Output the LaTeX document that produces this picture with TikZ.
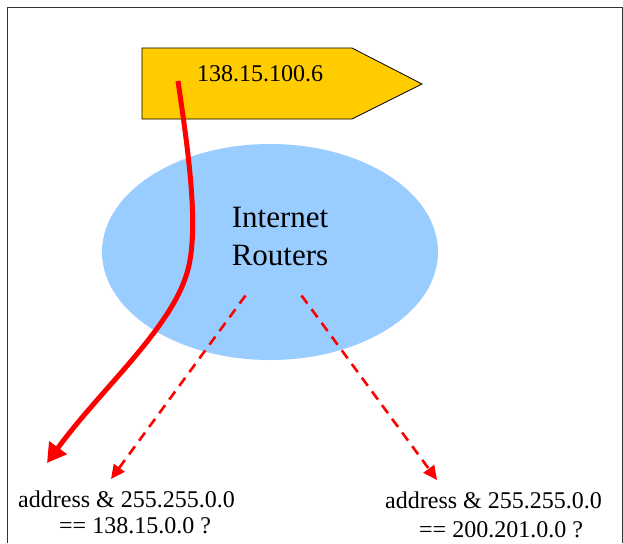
\documentclass[tikz,border=0pt]{standalone}
\usepackage{fontspec}
\setmainfont{Liberation Serif}
\usetikzlibrary{arrows.meta,shapes.geometric}
\definecolor{tagfill}{HTML}{FFCC00}
\definecolor{cloudblue}{HTML}{99CCFF}
\definecolor{framegray}{HTML}{333333}
\begin{document}
\begin{tikzpicture}[x=1pt,y=-1pt,
  lbl/.style={font=\fontsize{24}{27}\selectfont, inner sep=0pt, anchor=base west},
  bigtxt/.style={font=\fontsize{31}{38}\selectfont, inner sep=0pt, anchor=base},
  route/.style={red, line width=5pt, -{Triangle[length=19pt,width=21pt]}},
  probe/.style={red, line width=2.6pt, dash pattern=on 10pt off 7pt,
                -{Triangle[length=14pt,width=13pt]}}]
\useasboundingbox (0,0) rectangle (623,543);
% open frame
\draw[framegray, line width=1pt] (7,543) -- (7,8) -- (622,8) -- (622,543);
% router cloud
\node[ellipse, fill=cloudblue, minimum width=336pt, minimum height=216pt,
      inner sep=0pt] (net) at (270,252) {};
\node[bigtxt] (netA) at (280,227) {Internet};
\node[bigtxt] (netB) at (280,265) {Routers};
% destination address tag
\filldraw[fill=tagfill, draw=black, line width=0.8pt]
  (142,48) -- (352,48) -- (422,84) -- (352,119) -- (142,119) -- cycle;
\node[lbl] (addr) at (197,81.5) {138.15.100.6};
% route taken by the packet
\coordinate (tagpt) at (178,81);
\coordinate (bend) at (187,273);
\coordinate (endA) at (47,463);
\draw[route] (tagpt) .. controls (188,150) and (200,230) .. (bend)
             .. controls (170,330) and (100,390) .. (endA);
% mask tests
\coordinate (srcA) at (245.5,295.5);
\coordinate (srcB) at (301.5,295.5);
\coordinate (dstA) at (111,479);
\coordinate (dstB) at (437,480);
\draw[probe] (srcA) -- (dstA);
\draw[probe] (srcB) -- (dstB);
\node[lbl] (testA1) at (18,507) {address \& 255.255.0.0};
\node[lbl] (testA2) at (59,533.3) {== 138.15.0.0 ?};
\node[lbl] (testB1) at (385,508.3) {address \& 255.255.0.0};
\node[lbl] (testB2) at (419,537.3) {== 200.201.0.0 ?};
\end{tikzpicture}
\end{document}
